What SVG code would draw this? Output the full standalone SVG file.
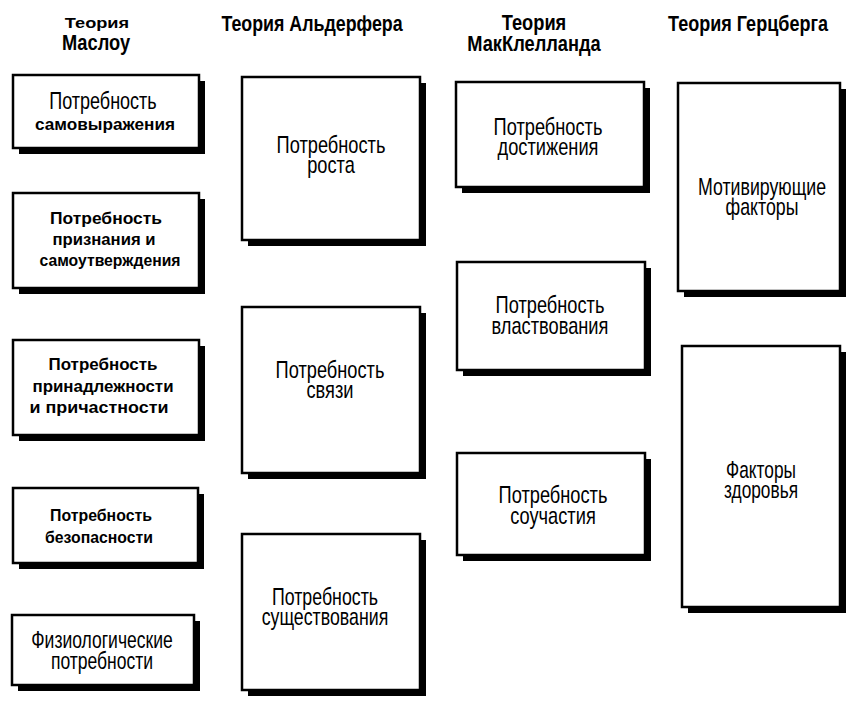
<svg xmlns="http://www.w3.org/2000/svg" width="855" height="701" viewBox="0 0 855 701">
<style>
.sh{fill:#000}
.bx{fill:#fff;stroke:#000;stroke-width:2.5}
.t{font-family:"Liberation Sans",Arial,sans-serif;fill:#000;text-anchor:middle}
.h{font-weight:bold;font-size:22px}
.n{font-size:24px}
.w{font-weight:bold;font-size:17px}
</style>
<rect width="855" height="701" fill="#fff"/>
<g id="titles">
<text class="t w" transform="translate(97,28) scale(1.3,1)" style="font-size:14px">Теория</text>
<text class="t h" transform="translate(96,50) scale(0.83,1)">Маслоу</text>
<text class="t h" transform="translate(312,31) scale(0.81,1)">Теория Альдерфера</text>
<text class="t h" transform="translate(534,30) scale(0.83,1)"><tspan x="0" y="0">Теория</tspan><tspan x="0" y="21">МакКлелланда</tspan></text>
<text class="t h" transform="translate(748,31) scale(0.82,1)">Теория Герцберга</text>
</g>
<g id="connectors"></g>
<g id="maslow1">
<rect class="sh" x="19" y="81" width="186" height="73"/>
<rect class="bx" x="13" y="75" width="186" height="73"/>
<text class="t n" transform="translate(103,109) scale(0.75,1)">Потребность</text>
<text class="t w" x="105" y="130" textLength="140" lengthAdjust="spacingAndGlyphs">самовыражения</text>
</g>
<g id="maslow2">
<rect class="sh" x="19" y="199" width="186" height="95"/>
<rect class="bx" x="13" y="193" width="186" height="95"/>
<text class="t w" x="106" y="224" textLength="112" lengthAdjust="spacingAndGlyphs">Потребность</text>
<text class="t w" x="104" y="245" textLength="103" lengthAdjust="spacingAndGlyphs">признания и</text>
<text class="t w" x="110" y="266" textLength="141" lengthAdjust="spacingAndGlyphs">самоутверждения</text>
</g>
<g id="maslow3">
<rect class="sh" x="19" y="346" width="186" height="95"/>
<rect class="bx" x="13" y="340" width="186" height="95"/>
<text class="t w" x="103" y="370" textLength="109" lengthAdjust="spacingAndGlyphs">Потребность</text>
<text class="t w" x="103" y="392" textLength="141" lengthAdjust="spacingAndGlyphs">принадлежности</text>
<text class="t w" x="99" y="413" textLength="139" lengthAdjust="spacingAndGlyphs">и причастности</text>
</g>
<g id="maslow4">
<rect class="sh" x="19" y="494" width="185" height="75"/>
<rect class="bx" x="13" y="488" width="185" height="75"/>
<text class="t w" x="101" y="521" textLength="102" lengthAdjust="spacingAndGlyphs">Потребность</text>
<text class="t w" x="99" y="543" textLength="108" lengthAdjust="spacingAndGlyphs">безопасности</text>
</g>
<g id="maslow5">
<rect class="sh" x="18" y="621" width="182" height="70"/>
<rect class="bx" x="12" y="615" width="182" height="70"/>
<text class="t n" transform="translate(102,648) scale(0.73,1)"><tspan x="0" y="0">Физиологические</tspan><tspan x="0" y="21">потребности</tspan></text>
</g>
<g id="alderfer1">
<rect class="sh" x="248" y="83" width="178" height="163"/>
<rect class="bx" x="242" y="77" width="178" height="163"/>
<text class="t n" transform="translate(331,153) scale(0.76,1)"><tspan x="0" y="0">Потребность</tspan><tspan x="0" y="20">роста</tspan></text>
</g>
<g id="alderfer2">
<rect class="sh" x="248" y="313" width="178" height="166"/>
<rect class="bx" x="242" y="307" width="178" height="166"/>
<text class="t n" transform="translate(330,378) scale(0.76,1)"><tspan x="0" y="0">Потребность</tspan><tspan x="0" y="20">связи</tspan></text>
</g>
<g id="alderfer3">
<rect class="sh" x="248" y="540" width="178" height="156"/>
<rect class="bx" x="242" y="534" width="178" height="156"/>
<text class="t n" transform="translate(325,605) scale(0.74,1)"><tspan x="0" y="0">Потребность</tspan><tspan x="0" y="20">существования</tspan></text>
</g>
<g id="mcc1">
<rect class="sh" x="462" y="88" width="188" height="105"/>
<rect class="bx" x="456" y="82" width="188" height="105"/>
<text class="t n" transform="translate(548,135) scale(0.76,1)"><tspan x="0" y="0">Потребность</tspan><tspan x="0" y="20">достижения</tspan></text>
</g>
<g id="mcc2">
<rect class="sh" x="463" y="268" width="188" height="108"/>
<rect class="bx" x="457" y="262" width="188" height="108"/>
<text class="t n" transform="translate(550,313) scale(0.76,1)"><tspan x="0" y="0">Потребность</tspan><tspan x="0" y="21">властвования</tspan></text>
</g>
<g id="mcc3">
<rect class="sh" x="463" y="459" width="188" height="102"/>
<rect class="bx" x="457" y="453" width="188" height="102"/>
<text class="t n" transform="translate(553,503) scale(0.76,1)"><tspan x="0" y="0">Потребность</tspan><tspan x="0" y="21">соучастия</tspan></text>
</g>
<g id="herzberg1">
<rect class="sh" x="684" y="89" width="162" height="208"/>
<rect class="bx" x="678" y="83" width="162" height="208"/>
<text class="t n" transform="translate(762,195) scale(0.74,1)"><tspan x="0" y="0">Мотивирующие</tspan><tspan x="0" y="20">факторы</tspan></text>
</g>
<g id="herzberg2">
<rect class="sh" x="688" y="352" width="158" height="261"/>
<rect class="bx" x="682" y="346" width="158" height="261"/>
<text class="t n" transform="translate(761,478) scale(0.72,1)"><tspan x="0" y="0">Факторы</tspan><tspan x="0" y="20">здоровья</tspan></text>
</g>
</svg>
